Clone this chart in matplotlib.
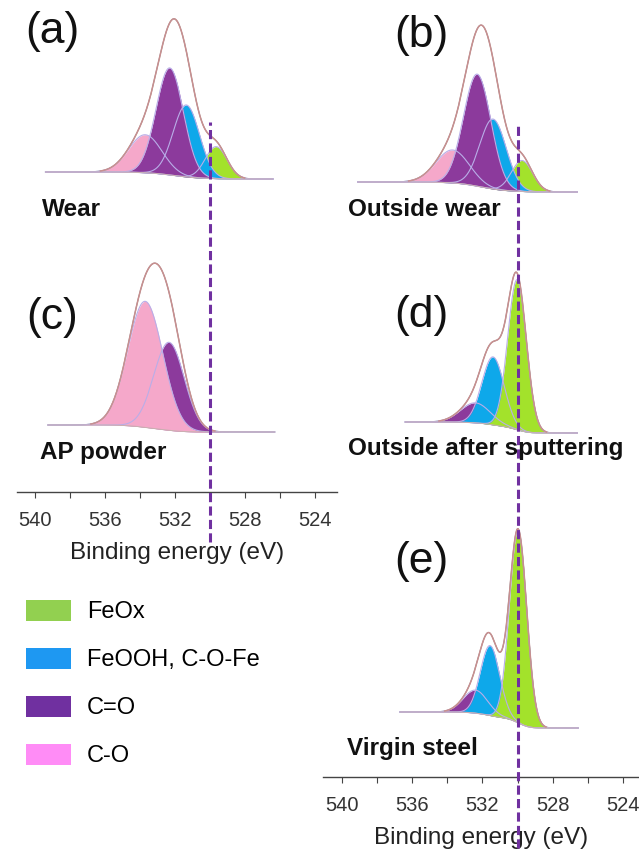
import numpy as np
import matplotlib.pyplot as plt
from matplotlib.patches import Patch

plt.rcParams['font.family'] = ['Liberation Sans', 'DejaVu Sans']

W, H = 639, 850

# component names and colours (order: FeOx, FeOOH, C=O, C-O)
names = ['FeOx', 'FeOOH, C-O-Fe', 'C=O', 'C-O']
fill_colors = ['#a3e22b', '#0ea8ea', '#8c3a9c', '#f5a8ca']
legend_colors = ['#92d050', '#1e98f2', '#7030a0', '#ff8cf6']

ticks = [540, 538, 536, 534, 532, 530, 528, 526, 524]
ref_energy = 530.0

# (a) Wear
a_center = [529.65, 531.35, 532.3, 533.7]
a_height = [32, 72, 107, 38]
a_sigma = [0.62, 0.75, 0.78, 0.95]
a_range = [539.4, 526.4]
a_base = [320, 313]

# (b) Outside wear
b_center = [529.75, 531.4, 532.3, 533.7]
b_height = [31, 70, 112, 33]
b_sigma = [0.6, 0.75, 0.78, 0.95]
b_range = [539.1, 526.6]
b_base = [595, 585]

# (c) AP powder
c_center = [529.7, 531.4, 532.34, 533.7]
c_height = [0, 0, 88, 126]
c_sigma = [0.55, 0.75, 0.87, 1.0]
c_range = [539.26, 526.3]
c_base = [67, 60]

# (d) Outside after sputtering
d_center = [530.03, 531.4, 532.4, 533.0]
d_height = [150, 68, 20, 0]
d_sigma = [0.53, 0.63, 0.85, 1.0]
d_range = [536.4, 526.6]
d_base = [355, 344]

# (e) Virgin steel
e_center = [529.97, 531.57, 532.4, 533.0]
e_height = [193, 70, 23, 0]
e_sigma = [0.49, 0.55, 0.7, 1.0]
e_range = [536.7, 526.55]
e_base = [65, 49]


def fx(px):
    return px / W


def fy(py):
    return 1 - py / H


def draw_spectrum(ax, centers, heights, sigmas, e_range, base):
    e = np.linspace(e_range[1], e_range[0], 1500)
    comps = np.array([h * np.exp(-0.5 * ((e - c) / s) ** 2)
                      for c, h, s in zip(centers, heights, sigmas)])
    total = comps.sum(axis=0)
    # shirley-like step background
    area = np.cumsum(total)
    area = area / area[-1]
    bg = base[1] + (base[0] - base[1]) * area
    # taller components are painted over the smaller ones
    for i in np.argsort(heights):
        if heights[i] > 0:
            ax.fill_between(e, bg, bg + comps[i], color=fill_colors[i], lw=0, zorder=2)
    ax.plot(e, bg + total, color='#7d8a90', lw=0.8, zorder=3)
    for i in range(len(comps)):
        if heights[i] > 0:
            ax.plot(e, bg + comps[i], color='#b9aee8', lw=0.8, zorder=4)
    ax.plot(e, bg, color='#c9b0b0', lw=0.7, zorder=4)
    fit = np.where(total > 1.0, bg + total, np.nan)
    ax.plot(e, fit, color='#c98f8f', lw=1.1, zorder=5)


def setup_axis(ax, xlim, ylim):
    ax.set_xlim(*xlim)
    ax.set_ylim(*ylim)
    ax.set_facecolor('none')
    for s in ['top', 'left', 'right']:
        ax.spines[s].set_visible(False)
    ax.spines['bottom'].set_color('#444444')
    ax.spines['bottom'].set_linewidth(1.0)
    ax.set_yticks([])
    ax.set_xticks(ticks)
    ax.set_xticklabels([str(t) if t % 4 == 0 else '' for t in ticks])
    ax.tick_params(axis='x', direction='out', length=4, width=0.8,
                   color='#444444', labelsize=14.5, labelcolor='#333333', pad=9.5)
    ax.set_xlabel('Binding energy (eV)', fontsize=17.5, color='#222222', labelpad=9)


fig = plt.figure(figsize=(W / 100, H / 100), dpi=100)

# left column: (a) and (c), axis line at y = 492 px
axL = fig.add_axes([fx(17), fy(492), fx(337) - fx(17), fy(0) - fy(492)])
setup_axis(axL, (541.03, 522.74), (0, 492))
draw_spectrum(axL, a_center, a_height, a_sigma, a_range, a_base)
draw_spectrum(axL, c_center, c_height, c_sigma, c_range, c_base)
axL.plot([ref_energy, ref_energy], [-50, 370], color='#7030a0', lw=2.2,
         dashes=(3, 1.4), clip_on=False, zorder=10)

# right column: (b), (d), (e), axis line at y = 777 px
axR = fig.add_axes([fx(323), fy(777), fx(639) - fx(323), fy(0) - fy(777)])
setup_axis(axR, (541.08, 523.09), (0, 777))
draw_spectrum(axR, b_center, b_height, b_sigma, b_range, b_base)
draw_spectrum(axR, d_center, d_height, d_sigma, d_range, d_base)
draw_spectrum(axR, e_center, e_height, e_sigma, e_range, e_base)
axR.plot([ref_energy, ref_energy], [-71, 654], color='#7030a0', lw=2.2,
         dashes=(3, 1.4), clip_on=False, zorder=10)

# panel letters
for lab, x, y in [('(a)', 52, 32), ('(b)', 421, 36), ('(c)', 52, 318),
                  ('(d)', 421, 315), ('(e)', 421, 562)]:
    fig.text(fx(x), fy(y), lab, fontsize=32, ha='center', va='center', color='#111111')

# sample names
for lab, x, y in [('Wear', 42, 210), ('Outside wear', 348, 210),
                  ('AP powder', 40, 452), ('Outside after sputtering', 348, 449),
                  ('Virgin steel', 347, 748)]:
    fig.text(fx(x), fy(y), lab, fontsize=17.5, fontweight='bold',
             ha='left', va='center', color='#111111')

handles = [Patch(facecolor=c, edgecolor='none', label=n)
           for c, n in zip(legend_colors, names)]
fig.legend(handles=handles, loc='upper left', bbox_to_anchor=(fx(26), fy(600)),
           frameon=False, fontsize=17, handlelength=1.9, handleheight=0.97,
           handletextpad=0.68, labelspacing=1.04, borderpad=0, borderaxespad=0)

fig.savefig('out.png', dpi=100)
